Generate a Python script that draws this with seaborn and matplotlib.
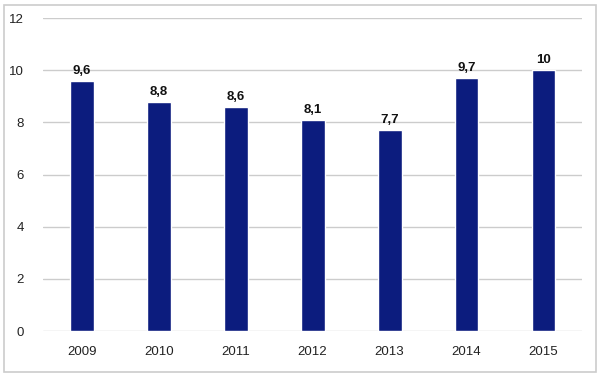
import matplotlib
matplotlib.use('Agg')
import matplotlib.pyplot as plt
import seaborn as sns
import pandas as pd
from matplotlib.patches import Rectangle

years = ['2009', '2010', '2011', '2012', '2013', '2014', '2015']
values = [9.6, 8.8, 8.6, 8.1, 7.7, 9.7, 10]
labels = ['9,6', '8,8', '8,6', '8,1', '7,7', '9,7', '10']

sns.set_style('white')
plt.rcParams['font.family'] = ['Liberation Sans', 'DejaVu Sans']

df = pd.DataFrame({'year': years, 'value': values})

fig = plt.figure(figsize=(6, 3.77), dpi=100)
ax = fig.add_axes([0.072, 0.122, 0.898, 0.830])

sns.barplot(data=df, x='year', y='value', color='#0c1c7e', saturation=1,
            width=0.31, ax=ax, zorder=3)

# value labels with decimal comma
for i, (v, t) in enumerate(zip(values, labels)):
    ax.text(i, v + 0.15, t, ha='center', va='bottom', fontsize=9.5,
            fontweight='bold', color='#111111')

ax.set_ylim(0, 12)
ax.set_xlim(-0.5, 6.5)
ax.set_yticks(range(0, 13, 2))
ax.yaxis.grid(True, color='#cccccc', linewidth=1, zorder=0)
ax.set_xlabel('')
ax.set_ylabel('')
for s in ax.spines.values():
    s.set_visible(False)
ax.tick_params(axis='both', length=0, labelsize=9.5, colors='#222222')
ax.tick_params(axis='y', pad=14)
ax.tick_params(axis='x', pad=11)

fig.patches.append(Rectangle((0.006, 0.013), 0.988, 0.975, transform=fig.transFigure,
                             fill=False, edgecolor='#cccccc', linewidth=1.2))

fig.savefig('out.png', dpi=100)
